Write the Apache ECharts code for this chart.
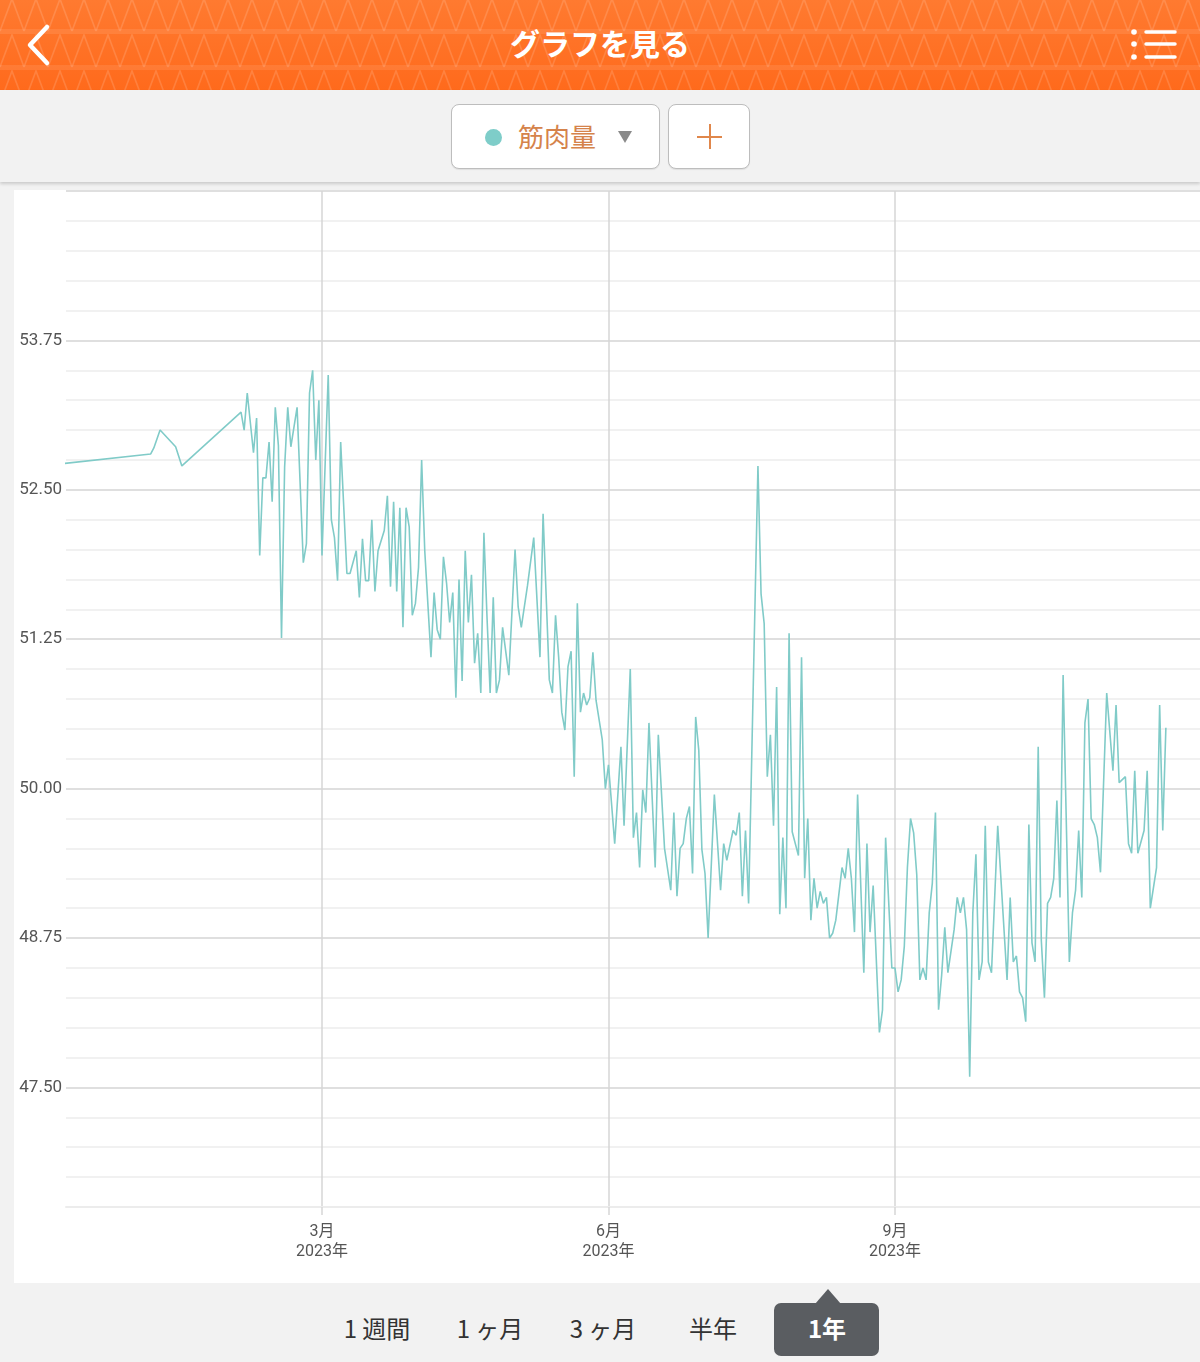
<!DOCTYPE html>
<html>
<head>
<meta charset="utf-8">
<script src="https://cdn.jsdelivr.net/npm/echarts@6/dist/echarts.min.js"></script>
<style>
  html, body { margin:0; padding:0; }
  body { width:1200px; height:1362px; background:#f2f2f2; position:relative; overflow:hidden;
         font-family: Roboto, "Noto Sans CJK JP", "Noto Sans", sans-serif; }
  #header { position:absolute; left:0; top:0; width:1200px; height:90px;
    background-color:#ff6f22;
    background-image:url("data:image/svg+xml;utf8,<svg xmlns='http://www.w3.org/2000/svg' width='24' height='36'><path d='M0 33 L12 1 L24 33' fill='none' stroke='rgba(255,255,255,0.14)' stroke-width='1.6'/><rect y='31' width='24' height='5' fill='rgba(255,255,255,0.09)'/></svg>"),
      linear-gradient(#ff7a30,#ff6a1c);
    background-position:0 -2px, 0 0; }
  #title { position:absolute; left:0; width:1200px; top:20px; text-align:center; color:#fff;
    font-family:"Noto Sans CJK JP", sans-serif; font-weight:700; font-size:30px; line-height:44px; }
  #toolbar { position:absolute; left:0; top:90px; width:1200px; height:92px; background:#f2f2f2;
    box-shadow:0 2px 3px rgba(0,0,0,0.16); }
  .btn { position:absolute; top:104px; height:63px; background:#fff; border:1px solid #bdbdbd; border-radius:8px;
    box-shadow:0 1px 1px rgba(0,0,0,0.08); }
  #dd { left:451px; width:207px; }
  #plus { left:668px; width:80px; }
  #dot { position:absolute; left:33px; top:24px; width:17px; height:17px; border-radius:50%; background:#7ecdc9; }
  #ddtext { position:absolute; left:66px; top:11px; font-family:"Noto Sans CJK JP", sans-serif; font-size:26px; line-height:40px; color:#d5834b; }
  #tri { position:absolute; left:166px; top:26px; width:0; height:0; border-left:7px solid transparent; border-right:7px solid transparent; border-top:12px solid #8a8a8a; }
  #ph { position:absolute; left:28px; top:31px; width:25px; height:2px; background:#e0874b; }
  #pv { position:absolute; left:40px; top:19px; width:2px; height:25px; background:#e0874b; }
  #card { position:absolute; left:14px; top:190px; width:1186px; height:1093px; background:#fff; }
  #chart { position:absolute; left:14px; top:190px; width:1186px; height:1093px; }
  .tab { position:absolute; top:1310px; width:120px; margin-left:-60px; text-align:center; font-family:"Noto Sans CJK JP", sans-serif;
    font-size:24px; line-height:36px; color:#333; }
  #sel { position:absolute; left:774px; top:1303px; width:105px; height:53px; background:#5a5d61; border-radius:7px; }
  #pointer { position:absolute; left:815px; top:1289px; width:0; height:0; border-left:13px solid transparent; border-right:13px solid transparent; border-bottom:15px solid #5a5d61; }
  #seltext { color:#fff; font-weight:700; }
</style>
</head>
<body>
<div id="header">
  <svg width="1200" height="90" style="position:absolute;left:0;top:0">
    <polyline points="47,27 30,45 47,63" fill="none" stroke="#fff" stroke-width="4.5" stroke-linecap="round" stroke-linejoin="round"/>
    <circle cx="1134" cy="32" r="2.8" fill="#fff"/>
    <circle cx="1134" cy="44" r="2.8" fill="#fff"/>
    <circle cx="1134" cy="57" r="2.8" fill="#fff"/>
    <line x1="1146" y1="32" x2="1175" y2="32" stroke="#fff" stroke-width="3.5" stroke-linecap="round"/>
    <line x1="1146" y1="44" x2="1175" y2="44" stroke="#fff" stroke-width="3.5" stroke-linecap="round"/>
    <line x1="1146" y1="57" x2="1175" y2="57" stroke="#fff" stroke-width="3.5" stroke-linecap="round"/>
  </svg>
  <div id="title">グラフを見る</div>
</div>
<div id="toolbar"></div>
<div id="dd" class="btn"><div id="dot"></div><div id="ddtext">筋肉量</div><div id="tri"></div></div>
<div id="plus" class="btn"><div id="ph"></div><div id="pv"></div></div>
<div id="card"></div>
<div id="chart"></div>
<div class="tab" style="left:377px">1 週間</div>
<div class="tab" style="left:490px">1 ヶ月</div>
<div class="tab" style="left:603px">3 ヶ月</div>
<div class="tab" style="left:713px">半年</div>
<div id="pointer"></div>
<div id="sel"></div>
<div class="tab" id="seltext" style="left:827px">1年</div>
<script>
// ---- data ----
const dates = [
'2022-12-01','2023-01-05','2023-01-06','2023-01-08','2023-01-13','2023-01-15',
'2023-02-03','2023-02-04','2023-02-05','2023-02-07','2023-02-08','2023-02-09','2023-02-10','2023-02-11','2023-02-12','2023-02-13','2023-02-14','2023-02-15','2023-02-16','2023-02-17','2023-02-18','2023-02-19','2023-02-21','2023-02-23','2023-02-24','2023-02-25','2023-02-26','2023-02-27','2023-02-28',
'2023-03-01','2023-03-03','2023-03-04','2023-03-05','2023-03-06','2023-03-07','2023-03-09','2023-03-10','2023-03-12','2023-03-13','2023-03-14','2023-03-15','2023-03-16','2023-03-17','2023-03-18','2023-03-19','2023-03-21','2023-03-22','2023-03-23','2023-03-24','2023-03-25','2023-03-26','2023-03-27','2023-03-28','2023-03-29','2023-03-30','2023-03-31',
'2023-04-01','2023-04-02','2023-04-03','2023-04-05','2023-04-06','2023-04-07','2023-04-08','2023-04-09','2023-04-10','2023-04-11','2023-04-12','2023-04-13','2023-04-14','2023-04-15','2023-04-16','2023-04-17','2023-04-18','2023-04-19','2023-04-20','2023-04-21','2023-04-22','2023-04-23','2023-04-24','2023-04-25','2023-04-26','2023-04-27','2023-04-28','2023-04-30',
'2023-05-02','2023-05-03','2023-05-04','2023-05-06','2023-05-08','2023-05-10','2023-05-11','2023-05-13','2023-05-14','2023-05-15','2023-05-16','2023-05-17','2023-05-18','2023-05-19','2023-05-20','2023-05-21','2023-05-22','2023-05-23','2023-05-24','2023-05-25','2023-05-26','2023-05-27','2023-05-28','2023-05-30','2023-05-31',
'2023-06-01','2023-06-03','2023-06-05','2023-06-06','2023-06-08','2023-06-09','2023-06-10','2023-06-11','2023-06-12','2023-06-13','2023-06-14','2023-06-16','2023-06-17','2023-06-19','2023-06-21','2023-06-22','2023-06-23','2023-06-24','2023-06-25','2023-06-26','2023-06-27','2023-06-28','2023-06-29','2023-06-30',
'2023-07-01','2023-07-02','2023-07-03','2023-07-05','2023-07-07','2023-07-08','2023-07-09','2023-07-11','2023-07-12','2023-07-13','2023-07-14','2023-07-15','2023-07-16','2023-07-19','2023-07-20','2023-07-21','2023-07-22','2023-07-23','2023-07-24','2023-07-25','2023-07-26','2023-07-27','2023-07-28','2023-07-29','2023-07-30',
'2023-08-01','2023-08-02','2023-08-03','2023-08-04','2023-08-05','2023-08-06','2023-08-07','2023-08-08','2023-08-09','2023-08-10','2023-08-11','2023-08-12','2023-08-13','2023-08-15','2023-08-16','2023-08-17','2023-08-18','2023-08-19','2023-08-20','2023-08-22','2023-08-23','2023-08-24','2023-08-25','2023-08-27','2023-08-28','2023-08-29','2023-08-31',
'2023-09-01','2023-09-02','2023-09-03','2023-09-04','2023-09-05','2023-09-06','2023-09-07','2023-09-08','2023-09-09','2023-09-10','2023-09-11','2023-09-12','2023-09-13','2023-09-14','2023-09-15','2023-09-16','2023-09-17','2023-09-18','2023-09-20','2023-09-21','2023-09-22','2023-09-23','2023-09-24','2023-09-25','2023-09-26','2023-09-27','2023-09-28','2023-09-29','2023-09-30',
'2023-10-01','2023-10-02','2023-10-04','2023-10-07','2023-10-08','2023-10-09','2023-10-10','2023-10-11','2023-10-12','2023-10-13','2023-10-14','2023-10-15','2023-10-16','2023-10-17','2023-10-18','2023-10-19','2023-10-20','2023-10-21','2023-10-22','2023-10-23','2023-10-24','2023-10-25','2023-10-27','2023-10-28','2023-10-29','2023-10-30','2023-10-31',
'2023-11-01','2023-11-02','2023-11-03','2023-11-04','2023-11-05','2023-11-06','2023-11-08','2023-11-10','2023-11-11','2023-11-12','2023-11-14','2023-11-15','2023-11-16','2023-11-17','2023-11-18','2023-11-20','2023-11-21','2023-11-22','2023-11-24','2023-11-25','2023-11-26','2023-11-27'
];
const values = [
52.70,52.80,52.85,53.00,52.86,52.70,
53.15,53.00,53.31,52.81,53.10,51.95,52.60,52.60,52.90,52.40,53.19,52.87,51.26,52.69,53.19,52.86,53.19,51.89,52.05,53.31,53.50,52.75,53.25,
51.95,53.46,52.25,52.10,51.74,52.90,51.80,51.80,51.99,51.60,52.09,51.74,51.74,52.25,51.65,51.99,52.16,52.45,51.69,52.40,51.65,52.35,51.35,52.35,52.19,51.45,51.55,
51.85,52.75,51.99,51.10,51.64,51.33,51.25,51.94,51.72,51.39,51.64,50.76,51.75,50.90,51.99,51.39,51.79,51.05,51.30,50.80,52.14,51.43,50.80,51.60,50.80,50.91,51.35,50.95,
52.00,51.52,51.35,51.70,52.10,51.10,52.30,50.91,50.80,51.45,51.10,50.64,50.49,51.02,51.15,50.10,51.55,50.64,50.80,50.70,50.76,51.14,50.74,50.41,50.00,
50.20,49.54,50.35,49.69,51.00,49.59,49.80,49.34,49.99,49.80,50.55,49.34,50.45,49.50,49.15,49.80,49.10,49.50,49.54,49.75,49.85,49.29,50.60,50.32,
49.49,49.29,48.75,49.95,49.15,49.54,49.40,49.65,49.61,49.80,49.10,49.65,49.04,52.70,51.63,51.38,50.10,50.45,49.69,50.85,48.95,49.59,49.00,51.30,49.64,
49.44,51.10,49.25,49.75,48.90,49.25,49.00,49.14,49.04,49.09,48.75,48.79,48.90,49.34,49.25,49.50,49.25,48.80,49.95,48.46,49.54,48.80,49.19,47.96,48.15,49.59,48.50,
48.50,48.30,48.40,48.68,49.34,49.75,49.63,49.28,48.40,48.50,48.40,48.96,49.21,49.80,48.15,48.44,48.84,48.46,48.82,49.09,48.96,49.09,48.82,47.59,48.96,49.45,48.40,48.55,49.69,
48.55,48.46,49.69,48.40,49.09,48.55,48.60,48.30,48.25,48.05,49.70,48.71,48.55,50.35,48.73,48.25,49.04,49.09,49.25,49.90,49.09,50.95,48.55,48.96,49.15,49.65,49.09,
50.55,50.75,49.75,49.70,49.59,49.30,50.80,50.15,50.70,50.05,50.10,49.54,49.46,50.15,49.46,49.65,50.15,49.00,49.34,50.70,49.65,50.51
];
const monthTicks = ['2023-03-01','2023-06-01','2023-09-01'];
const yMajorLabels = [47.50, 48.75, 50.00, 51.25, 52.50, 53.75];
const seriesName = '筋肉量';

// ---- chart ----
function ts(s){ const p = s.split('-').map(Number); return new Date(p[0], p[1]-1, p[2]).getTime(); }
const xMin = new Date(2022, 11, 8, 19).getTime();
const xMax = new Date(2023, 11, 7, 23).getTime();
const tickTs = monthTicks.map(ts);
const data = dates.map((d, i) => [ts(d), values[i]]);
const chart = echarts.init(document.getElementById('chart'), null, {renderer:'canvas'});
const minor = '#ececec', major = '#d4d4d4';
chart.setOption({
  animation:false,
  grid:{ left:52, right:0, top:1, bottom:76, containLabel:false },
  xAxis:{
    type:'value', min:xMin, max:xMax, scale:true,
    axisLine:{ show:true, lineStyle:{ color:'#ececec', width:2 } },
    axisTick:{ show:true, customValues:tickTs, length:8, lineStyle:{ color:'#d6d6d6', width:1.5 } },
    axisLabel:{ customValues:tickTs, color:'#555', fontSize:16, lineHeight:20, margin:15,
      fontFamily:'Roboto, "Noto Sans CJK JP", sans-serif',
      formatter:function(v){ const d = new Date(v); return (d.getMonth()+1) + '月\n' + d.getFullYear() + '年'; } },
    splitLine:{ show:true, lineStyle:{ color:'#d6d6d6', width:1.5 } }
  },
  yAxis:{
    type:'value', min:46.5, max:55, interval:0.25,
    axisLine:{ show:false }, axisTick:{ show:false },
    axisLabel:{ color:'#555', fontSize:17, margin:4, padding:[3,0,0,0], fontFamily:'Roboto, sans-serif',
      formatter:function(v){ return yMajorLabels.some(m => Math.abs(m - v) < 1e-6) ? v.toFixed(2) : ''; } },
    splitLine:{ show:true, lineStyle:{ color:[minor, minor, minor, minor, major], width:1.5 } }
  },
  series:[{ name:seriesName, type:'line', data:data, symbol:'none', showSymbol:false, clip:true,
    lineStyle:{ color:'#80cbc8', width:1.6 } }]
});
</script>
</body>
</html>
